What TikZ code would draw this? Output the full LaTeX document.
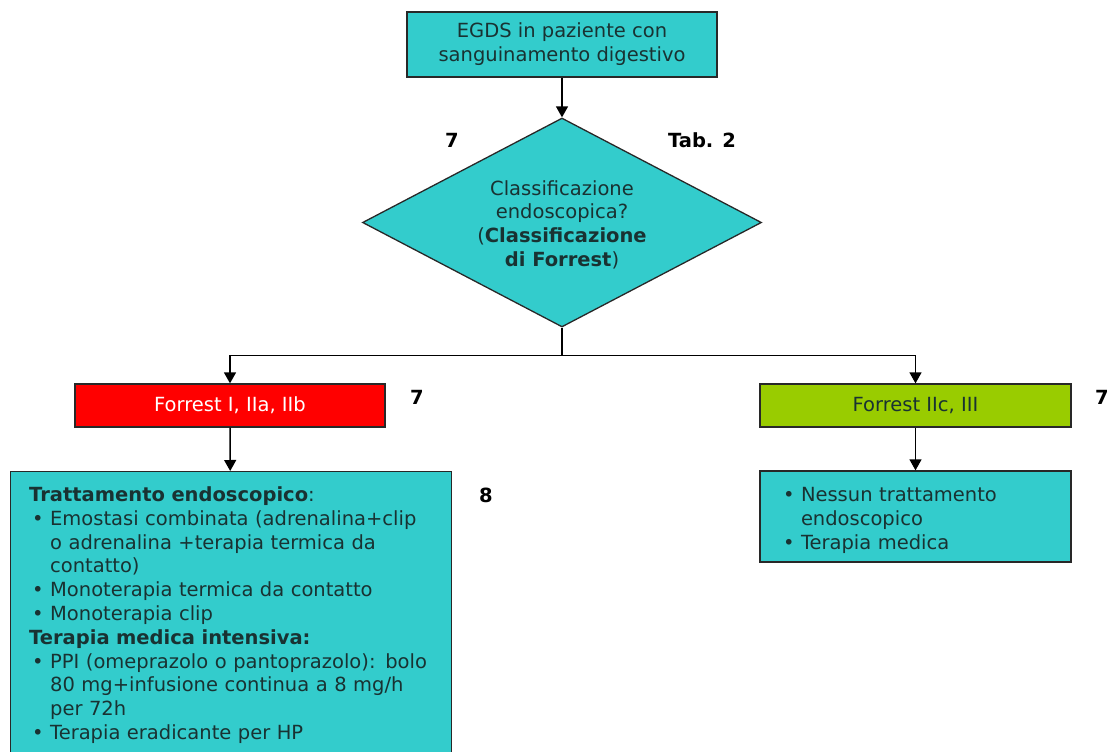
\documentclass[tikz,border=0pt]{standalone}
\usepackage{fontspec}
\setmainfont{DejaVu Sans}
\usetikzlibrary{arrows.meta,positioning,shapes.geometric}
\definecolor{boxTeal}{RGB}{51,204,204}
\definecolor{forrestRed}{RGB}{255,0,0}
\definecolor{forrestGreen}{RGB}{153,204,0}
\definecolor{lineGray}{RGB}{40,40,40}
\definecolor{textDark}{RGB}{25,50,50}
\newcommand{\bulitem}{\makebox[21pt][l]{\hspace{3pt}•}}
\newcommand{\bulcont}{\hspace*{21pt}}

\begin{document}
\begin{tikzpicture}[x=1pt,y=-1pt,
  font=\fontsize{19.5}{23.8}\selectfont,
  box/.style={draw=lineGray,line width=1.3pt,inner sep=0pt,text=textDark,align=center},
  tealbox/.style={box,fill=boxTeal},
  refnum/.style={font=\fontsize{19.5}{23.8}\selectfont\bfseries,text=black},
  arrow/.style={draw=black,line width=1.4pt,-{Triangle[width=12pt,length=11pt]}}]
\useasboundingbox (0,0) rectangle (1112,752);

% top of the chart
\node[tealbox,minimum width=310pt,minimum height=65pt] (egds) at (562,44.5) {EGDS in paziente con\\sanguinamento digestivo};
\node[tealbox,shape=diamond,aspect=1.9,minimum width=399pt,minimum height=209pt] (classif) at (562,222.5)
  {\rule{0pt}{19pt}Classificazione\\endoscopica?\\(\textbf{Classificazione}\\\textbf{di Forrest})};
\node[refnum] (ref7top) at (452,140) {7};
\node[refnum] (reftab) at (702,140) {Tab. 2};

% the two classes
\node[box,fill=forrestRed,text=white,minimum width=310pt,minimum height=43pt] (high) at (230,405.5) {Forrest I, IIa, IIb};
\node[box,fill=forrestGreen,minimum width=311pt,minimum height=43pt] (low) at (915.5,405.5) {Forrest IIc, III};
\node[refnum] (ref7high) at (417,397) {7};
\node[refnum] (ref7low) at (1102,397) {7};

% what to do
\node[tealbox,anchor=north west,text width=403pt,inner xsep=19pt,inner ysep=15pt,align=left] (treat) at (9.5,471) {
\textbf{Trattamento endoscopico}:\\
\bulitem Emostasi combinata (adrenalina+clip\\
\bulcont o adrenalina +terapia termica da\\
\bulcont contatto)\\
\bulitem Monoterapia termica da contatto\\
\bulitem Monoterapia clip\\
\textbf{Terapia medica intensiva:}\\
\bulitem PPI (omeprazolo o pantoprazolo): bolo\\
\bulcont 80 mg+infusione continua a 8 mg/h\\
\bulcont per 72h\\
\bulitem Terapia eradicante per HP\rule[-25pt]{0pt}{0pt}};
\node[refnum] (ref8) at (486,495) {8};
\node[tealbox,minimum width=311pt,minimum height=91pt,text width=271pt,inner xsep=20pt,align=left] (notreat) at (915.5,516.5) {
\rule{0pt}{22pt}\bulitem Nessun trattamento\\
\bulcont endoscopico\\
\bulitem Terapia medica};

% connectors
\draw[arrow] (egds) -- (classif);
\draw[line width=1.4pt] (classif.south) -- ++(0,28) coordinate (split);
\draw[arrow] (split) -| (high);
\draw[arrow] (split) -| (low);
\draw[arrow] (high) -- (treat);
\draw[arrow] (low) -- (notreat);
\end{tikzpicture}
\end{document}
